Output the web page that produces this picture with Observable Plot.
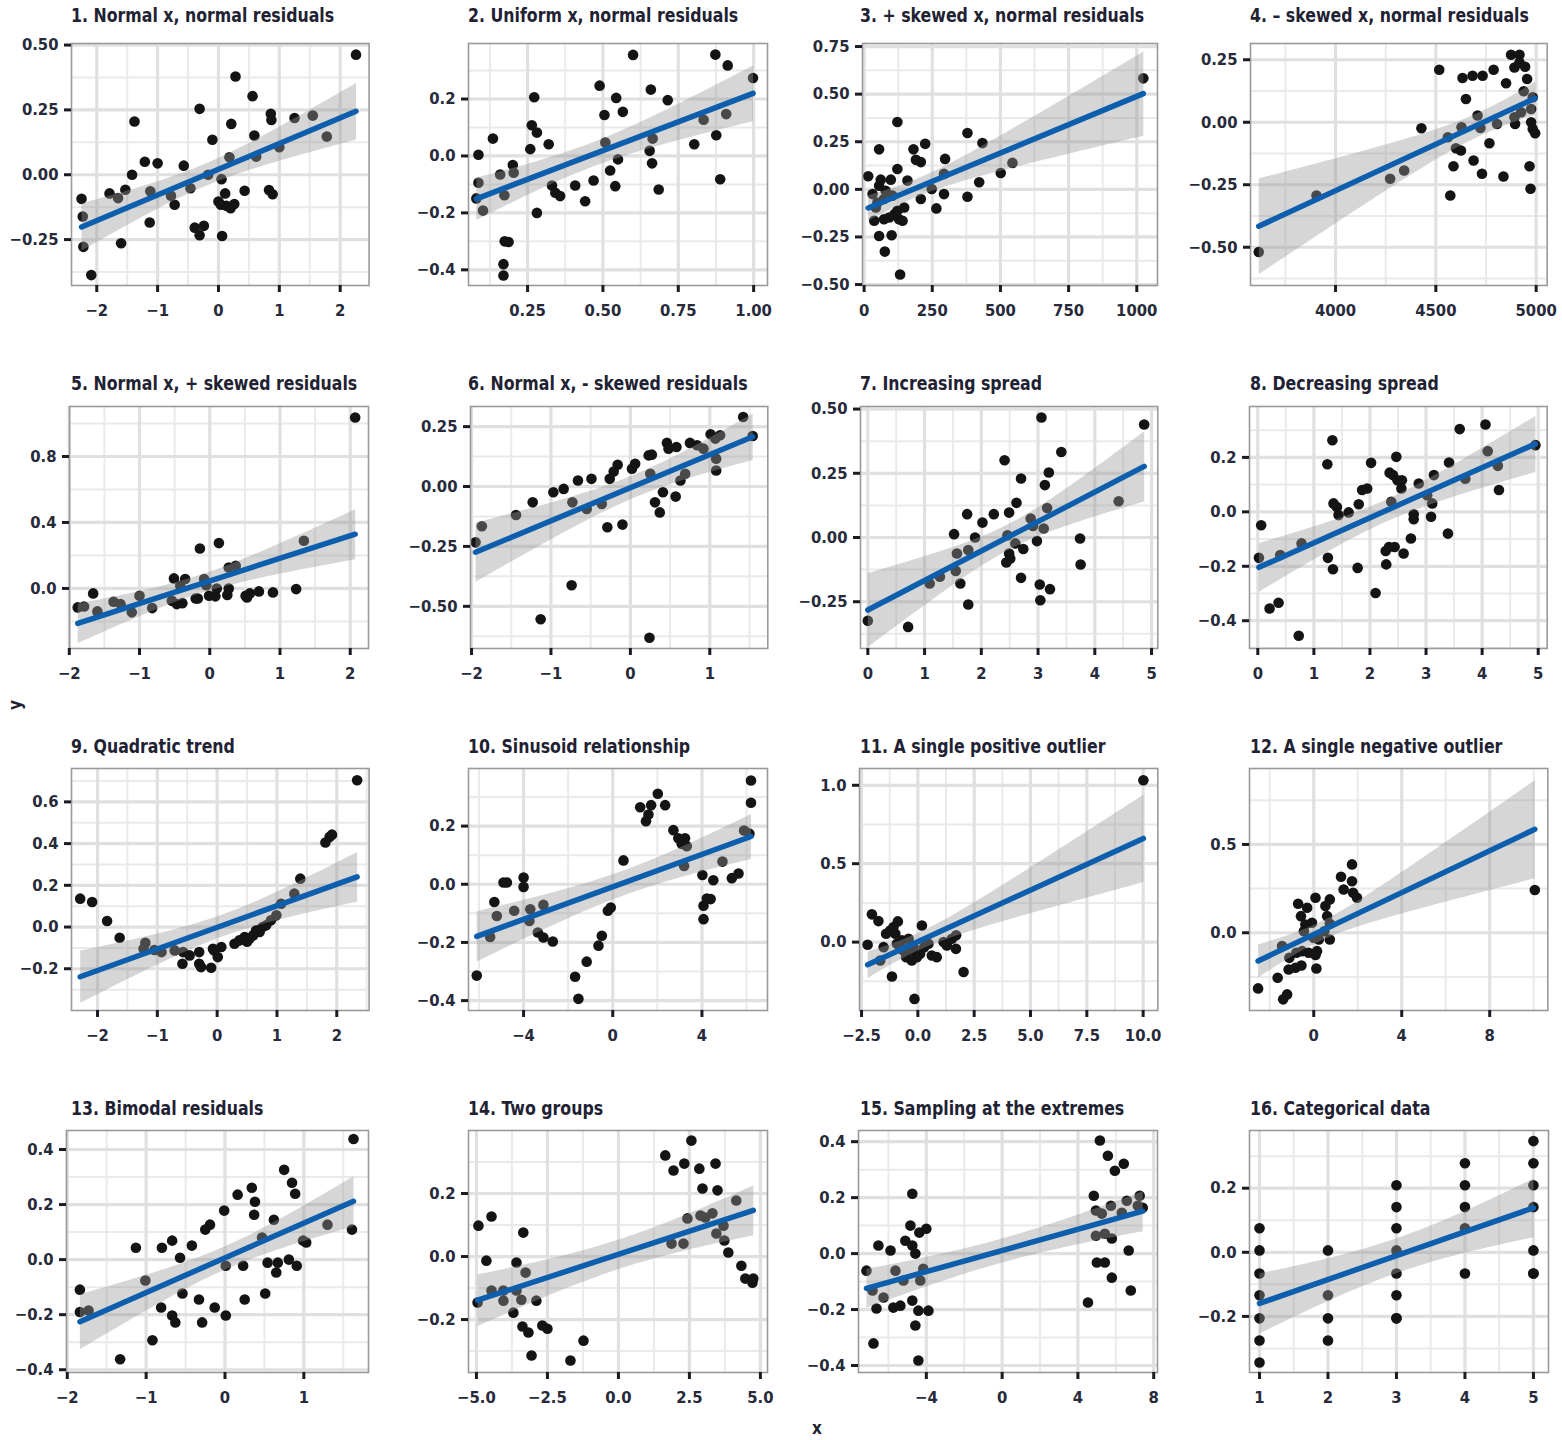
<!DOCTYPE html>
<html><head><meta charset="utf-8">
<script src="https://cdn.jsdelivr.net/npm/d3@7"></script>
<script src="https://cdn.jsdelivr.net/npm/@observablehq/plot@0.6"></script>
<style>
body{margin:0;background:#fff;}
#wrap{position:relative;width:1562px;height:1440px;overflow:hidden;background:#fff;}
#wrap svg{position:absolute;}
</style></head><body><div id="wrap"></div>
<script>
const titles = ["1. Normal x, normal residuals","2. Uniform x, normal residuals","3. + skewed x, normal residuals","4. \u2013 skewed x, normal residuals",
"5. Normal x, + skewed residuals","6. Normal x, - skewed residuals","7. Increasing spread","8. Decreasing spread",
"9. Quadratic trend","10. Sinusoid relationship","11. A single positive outlier","12. A single negative outlier",
"13. Bimodal residuals","14. Two groups","15. Sampling at the extremes","16. Categorical data"];

const xTicks = [[-2,-1,0,1,2],[0.25,0.5,0.75,1],[0,250,500,750,1000],[4000,4500,5000],
[-2,-1,0,1,2],[-2,-1,0,1],[0,1,2,3,4,5],[0,1,2,3,4,5],
[-2,-1,0,1,2],[-4,0,4],[-2.5,0,2.5,5,7.5,10],[0,4,8],
[-2,-1,0,1],[-5,-2.5,0,2.5,5],[-4,0,4,8],[1,2,3,4,5]];
const yTicks = [[-0.25,0,0.25,0.5],[-0.4,-0.2,0,0.2],[-0.5,-0.25,0,0.25,0.5,0.75],[-0.5,-0.25,0,0.25],
[0,0.4,0.8],[-0.5,-0.25,0,0.25],[-0.25,0,0.25,0.5],[-0.4,-0.2,0,0.2],
[-0.2,0,0.2,0.4,0.6],[-0.4,-0.2,0,0.2],[0,0.5,1],[0,0.5],
[-0.4,-0.2,0,0.2,0.4],[-0.2,0,0.2],[-0.4,-0.2,0,0.2,0.4],[-0.2,0,0.2]];
const xDecimals = [0,2,0,0, 0,0,0,0, 0,0,1,0, 0,1,0,0];
const yDecimals = [2,1,2,2, 1,2,2,1, 1,1,1,1, 1,1,1,1];

const p1 = [[2.26,0.463],[0.28,0.379],[0.56,0.303],[-0.31,0.254],[-1.38,0.205],[0.86,0.235],[0.87,0.211],[1.25,0.219],[1.55,0.228],[0.21,0.196],[1.78,0.147],[0.59,0.151],[-0.10,0.135],[1.0,0.106],[0.62,0.07],[0.18,0.067],[-1.21,0.05],[-1.0,0.044],[-0.57,0.035],[-1.42,0.0],[-0.17,0.0],[0.05,-0.017],[-2.25,-0.093],[-1.79,-0.072],[-1.65,-0.09],[-1.53,-0.058],[-1.12,-0.064],[-0.78,-0.081],[-0.72,-0.116],[-0.46,-0.052],[0.11,-0.072],[0.43,-0.062],[0.0,-0.103],[0.13,-0.12],[0.2,-0.129],[0.26,-0.113],[0.83,-0.059],[0.89,-0.075],[-2.23,-0.161],[-1.13,-0.184],[-0.39,-0.204],[-0.24,-0.197],[-0.31,-0.233],[0.06,-0.236],[-2.22,-0.278],[-1.6,-0.264],[-2.09,-0.387],[0.04,-0.116]];
const p2 = [[0.60,0.355],[0.873,0.356],[0.914,0.318],[0.998,0.274],[0.489,0.247],[0.659,0.233],[0.272,0.206],[0.544,0.204],[0.715,0.196],[0.505,0.144],[0.566,0.155],[0.909,0.147],[0.834,0.127],[0.264,0.108],[0.281,0.082],[0.135,0.061],[0.32,0.041],[0.803,0.041],[0.876,0.073],[0.665,0.061],[0.259,0.024],[0.508,0.047],[0.087,0.004],[0.655,0.018],[0.663,-0.026],[0.55,-0.012],[0.201,-0.032],[0.524,-0.051],[0.087,-0.094],[0.159,-0.065],[0.204,-0.059],[0.889,-0.082],[0.331,-0.104],[0.408,-0.104],[0.469,-0.086],[0.541,-0.106],[0.342,-0.129],[0.358,-0.141],[0.685,-0.118],[0.08,-0.149],[0.173,-0.138],[0.441,-0.159],[0.102,-0.192],[0.281,-0.2],[0.174,-0.3],[0.187,-0.302],[0.17,-0.38],[0.17,-0.42]];
const p3 = [[1024,0.583],[15,0.069],[55,0.21],[122,0.354],[122,0.107],[61,0.051],[98,0.051],[55,0.019],[159,0.046],[181,0.21],[190,0.155],[208,0.143],[224,0.239],[379,0.296],[434,0.243],[297,0.16],[544,0.139],[501,0.086],[422,0.037],[379,-0.039],[293,-0.025],[248,0.002],[208,-0.051],[265,-0.1],[293,0.081],[31,-0.025],[49,-0.069],[79,-0.007],[73,-0.051],[104,-0.033],[147,-0.095],[122,-0.113],[92,-0.148],[128,-0.157],[37,-0.165],[73,-0.157],[112,-0.13],[141,-0.165],[55,-0.245],[101,-0.241],[76,-0.327],[132,-0.447],[43,-0.095]];
const p4 = [[3617,-0.519],[3905,-0.293],[4272,-0.226],[4342,-0.193],[4428,-0.024],[4517,0.21],[4572,-0.293],[4588,-0.176],[4600,-0.104],[4625,-0.113],[4633,0.177],[4650,0.093],[4683,0.186],[4733,0.186],[4688,-0.153],[4730,-0.206],[4767,-0.084],[4788,0.21],[4805,-0.007],[4708,0.027],[4722,-0.023],[4628,-0.02],[4850,0.156],[4837,-0.217],[4875,0.27],[4917,0.27],[4892,0.219],[4917,0.239],[4945,0.222],[4955,0.173],[4938,0.124],[4983,0.1],[4975,0.053],[4925,0.04],[4892,0.02],[4895,-0.007],[4975,0],[4983,-0.027],[4995,-0.044],[4967,-0.176],[4972,-0.266],[4560,-0.06]];
const p5 = [[2.07,1.036],[1.34,0.289],[-0.14,0.242],[0.13,0.275],[0.27,0.127],[0.37,0.137],[-0.51,0.061],[-0.35,0.057],[-0.08,0.057],[-0.42,0.016],[-1.66,-0.03],[-1.0,-0.044],[-0.17,-0.061],[-0.01,-0.044],[0.08,-0.048],[0.25,-0.04],[0.27,0],[0.51,-0.044],[0.57,-0.03],[0.70,-0.018],[0.90,-0.024],[1.23,-0.004],[-1.88,-0.115],[-1.79,-0.109],[-1.6,-0.139],[-1.37,-0.081],[-1.27,-0.095],[-1.11,-0.145],[-0.82,-0.119],[-0.54,-0.075],[-0.47,-0.095],[-0.39,-0.089],[-0.2,-0.061],[0.53,-0.055],[-0.05,0.02],[0.1,0.0]];
const p6 = [[1.42,0.29],[1.54,0.211],[1.01,0.218],[1.13,0.214],[1.07,0.2],[0.75,0.182],[0.46,0.182],[0.58,0.165],[0.48,0.158],[0.84,0.172],[0.92,0.158],[0.23,0.13],[0.27,0.133],[0.06,0.095],[0.02,0.074],[-0.16,0.091],[-0.21,0.063],[-0.26,0.032],[-0.66,0.025],[-0.49,0.032],[-0.84,-0.01],[-0.97,-0.024],[-1.23,-0.066],[-0.73,-0.066],[-0.55,-0.094],[-0.36,-0.073],[-1.44,-0.119],[-1.87,-0.166],[-1.95,-0.233],[-0.29,-0.17],[-0.1,-0.159],[0.31,-0.066],[0.41,-0.024],[0.37,-0.108],[0.57,-0.042],[0.63,0.025],[0.69,0.053],[1.08,0.067],[1.08,0.116],[0.25,0.053],[-0.74,-0.412],[-1.13,-0.554],[0.24,-0.631]];
const p7 = [[0,-0.324],[0.71,-0.348],[1.09,-0.179],[1.27,-0.153],[1.55,-0.13],[1.63,-0.179],[1.77,-0.261],[1.52,0.013],[1.57,-0.062],[1.75,0.091],[1.89,0],[1.77,-0.049],[2.02,0.058],[2.22,0.091],[2.41,0.301],[2.49,0.097],[2.46,0.009],[2.49,-0.062],[2.51,-0.082],[2.44,-0.097],[2.62,0.135],[2.70,0.23],[2.6,-0.023],[2.74,-0.045],[2.70,-0.157],[2.87,0.074],[2.91,0.045],[2.98,-0.014],[3.03,-0.183],[3.04,-0.244],[3.06,0.467],[3.12,0.204],[3.19,0.253],[3.16,0.115],[3.10,0.035],[3.21,-0.201],[3.41,0.333],[3.74,-0.004],[3.75,-0.105],[4.42,0.141],[4.87,0.44]];
const p8 = [[0.02,-0.169],[0.06,-0.049],[0.21,-0.355],[0.37,-0.334],[0.40,-0.159],[0.78,-0.116],[0.73,-0.455],[1.24,0.175],[1.33,0.263],[1.25,-0.169],[1.34,-0.211],[1.35,0.031],[1.41,0.018],[1.44,-0.012],[1.62,-0.002],[1.80,0.028],[1.86,0.08],[1.95,0.086],[1.78,-0.206],[2.02,0.18],[2.10,-0.298],[2.28,-0.144],[2.29,-0.193],[2.35,0.144],[2.38,0.037],[2.41,0.135],[2.47,0.202],[2.49,0.116],[2.57,0.116],[2.56,0.086],[2.34,-0.129],[2.44,-0.129],[2.60,-0.153],[2.73,-0.098],[2.78,-0.009],[2.78,-0.027],[2.87,0.104],[3.02,0.061],[3.11,0.031],[3.09,-0.018],[3.14,0.135],[3.39,-0.08],[3.41,0.181],[3.60,0.304],[3.70,0.122],[4.06,0.321],[4.10,0.223],[4.28,0.169],[4.30,0.08],[4.95,0.245]];
const p9 = [[-2.29,0.136],[-2.09,0.12],[-1.84,0.029],[-1.63,-0.051],[-1.2,-0.075],[-1.23,-0.104],[-0.93,-0.12],[-0.71,-0.112],[-0.57,-0.12],[-0.58,-0.176],[-0.46,-0.136],[-0.3,-0.12],[-0.3,-0.176],[-0.27,-0.192],[-0.1,-0.195],[-0.07,-0.104],[0.01,-0.144],[0.07,-0.096],[-0.05,-0.112],[0.29,-0.08],[0.37,-0.064],[0.46,-0.048],[0.54,-0.056],[0.6,-0.04],[0.65,-0.016],[0.71,-0.024],[0.76,0],[0.82,0.008],[0.9,0.032],[0.99,0.056],[1.07,0.112],[1.29,0.16],[1.39,0.232],[1.81,0.405],[1.88,0.432],[1.92,0.443],[2.34,0.704],[-1.05,-0.11],[0.5,-0.07]];
const p10 = [[-6.1,-0.314],[-5.5,-0.181],[-5.2,-0.109],[-5.31,-0.061],[-4.9,0.006],[-4.75,0.006],[-4.42,-0.091],[-4.0,0.023],[-4.0,-0.009],[-3.7,-0.086],[-3.74,-0.126],[-3.11,-0.071],[-3.36,-0.166],[-3.11,-0.183],[-2.69,-0.197],[-1.69,-0.318],[-1.54,-0.394],[-1.17,-0.266],[-0.64,-0.211],[-0.49,-0.177],[-0.22,-0.091],[-0.09,-0.08],[0.48,0.082],[1.23,0.265],[1.49,0.217],[1.6,0.24],[1.72,0.272],[2.02,0.311],[2.35,0.272],[2.72,0.186],[2.94,0.158],[3.09,0.139],[3.24,0.158],[3.32,0.131],[3.2,0.063],[4.02,0.032],[4.07,-0.074],[4.07,-0.12],[4.22,-0.049],[4.39,-0.051],[4.51,0.014],[4.92,0.078],[5.34,0.021],[5.64,0.037],[5.89,0.185],[6.2,0.28],[6.2,0.357],[6.13,0.174]];
const p11 = [[10.01,1.032],[-2.23,-0.017],[-2.04,0.177],[-1.75,0.134],[-1.41,0.053],[-1.52,-0.032],[-1.23,0.074],[-1.08,0.096],[-0.89,0.132],[-1.0,0.053],[-1.15,-0.219],[-0.71,0.011],[-0.64,-0.053],[-0.52,-0.096],[-0.41,0.021],[-0.27,-0.117],[-0.15,-0.362],[-0.04,-0.096],[0.18,0.106],[0.28,-0.032],[0.47,-0.011],[0.62,-0.085],[0.84,-0.096],[1.14,0],[1.29,-0.021],[1.51,0.021],[1.7,0.043],[1.69,-0.043],[2.03,-0.191],[-1.67,-0.117],[-0.34,-0.053],[0.1,-0.074],[-0.19,-0.032],[-0.93,-0.011]];
const p12 = [[10.05,0.242],[-2.53,-0.315],[-1.64,-0.255],[-1.39,-0.377],[-1.21,-0.349],[-1.44,-0.075],[-1.11,-0.142],[-1.14,-0.208],[-0.83,-0.198],[-0.56,-0.185],[-0.79,-0.113],[-0.53,-0.104],[-0.23,-0.113],[0.08,-0.126],[0.15,-0.104],[0.12,-0.202],[-0.71,0.164],[-0.58,0.094],[-0.3,0.142],[-0.38,0.047],[-0.45,0.009],[0.08,0.198],[-0.08,0.057],[0,-0.028],[0.23,-0.038],[0.53,0.151],[0.73,0.189],[0.61,0.094],[0.73,0.051],[0.48,0.009],[0.73,-0.038],[1.24,0.317],[1.36,0.245],[1.74,0.387],[1.74,0.292],[1.79,0.226],[1.97,0.198]];
const p13 = [[1.63,0.438],[-1.84,-0.109],[-1.84,-0.19],[-1.73,-0.185],[-1.33,-0.362],[-1.13,0.043],[-1.01,-0.076],[-0.92,-0.293],[-0.8,0.043],[-0.67,0.069],[-0.81,-0.174],[-0.67,-0.203],[-0.63,-0.228],[-0.57,0.007],[-0.54,-0.123],[-0.42,0.051],[-0.33,-0.145],[-0.29,-0.228],[-0.25,0.109],[-0.19,0.127],[-0.13,-0.174],[-0.01,0.178],[0.01,-0.203],[0.01,-0.022],[0.16,0.236],[0.23,-0.022],[0.25,-0.145],[0.34,0.261],[0.38,0.21],[0.37,0.163],[0.47,0.08],[0.51,-0.123],[0.54,-0.011],[0.62,0.145],[0.67,-0.011],[0.65,-0.047],[0.75,0.326],[0.81,0],[0.85,0.279],[0.89,0.239],[0.91,-0.022],[0.99,0.069],[1.03,0.062],[1.3,0.127],[1.61,0.109]];
const p14 = [[-4.93,0.098],[-4.47,0.127],[-4.65,-0.013],[-4.47,-0.108],[-4.96,-0.146],[-4.05,-0.108],[-4.05,-0.14],[-3.59,-0.019],[-3.59,-0.108],[-3.42,-0.137],[-3.7,-0.178],[-3.35,0.076],[-3.27,-0.051],[-3.38,-0.222],[-3.17,-0.241],[-2.89,-0.14],[-3.06,-0.314],[-2.68,-0.219],[-2.5,-0.229],[-1.69,-0.33],[-1.23,-0.267],[1.65,0.321],[1.94,0.273],[2.32,0.295],[2.57,0.368],[2.96,0.216],[2.85,0.279],[3.42,0.295],[3.49,0.21],[1.87,0.041],[2.29,0.041],[2.43,0.121],[2.89,0.13],[3.31,0.137],[3.45,0.073],[3.7,0.098],[3.73,0.051],[4.15,0.178],[3.87,0.013],[4.33,-0.029],[4.47,-0.07],[4.72,-0.083],[4.75,-0.07],[3.06,0.124]];
const p15 = [[-7.16,-0.061],[-6.84,-0.132],[-6.79,-0.321],[-6.53,0.029],[-6.63,-0.196],[-6.26,-0.157],[-5.74,-0.193],[-5.89,0.011],[-5.63,-0.061],[-5.21,-0.096],[-5.11,0.046],[-5.37,-0.186],[-4.84,0.1],[-4.74,0.029],[-4.74,-0.168],[-4.58,0],[-4.32,-0.096],[-4.42,-0.204],[-4.58,-0.257],[-4.74,0.214],[-4.37,0.075],[-4.0,0.089],[-4.16,-0.054],[-3.89,-0.204],[-4.42,-0.382],[4.53,-0.175],[4.84,0.207],[5.16,0.404],[4.95,0.154],[5.26,0.143],[5.74,0.171],[5.58,0.35],[5.95,0.296],[6.42,0.321],[4.95,0.064],[5.42,0.071],[5.79,0.054],[5.0,-0.032],[5.42,-0.032],[5.79,-0.086],[6.58,0.189],[6.32,0.146],[6.68,0.011],[6.79,-0.132],[7.26,0.207],[7.42,0.164],[7.16,0.171]];
const p16 = [[1,0.075],[1,0.006],[1,-0.066],[1,-0.134],[1,-0.206],[1,-0.275],[1,-0.344],[2,0.006],[2,-0.134],[2,-0.206],[2,-0.275],[3,0.209],[3,0.141],[3,0.075],[3,0.006],[3,-0.066],[3,-0.134],[3,-0.206],[3,-0.206],[4,0.278],[4,0.209],[4,0.141],[4,0.075],[4,-0.066],[5,0.347],[5,0.278],[5,0.209],[5,0.141],[5,0.006],[5,-0.066],[5,-0.066]];
const series = [p1,p2,p3,p4,p5,p6,p7,p8,p9,p10,p11,p12,p13,p14,p15,p16];

// scale domains (ggplot-style expanded limits)
const xDomains = [[-2.415,2.475],[0.054,1.046],[-5.9,1076],[3576,5055],[-1.997,2.26],[-2.013,1.73],[-0.129,5.11],[-0.148,5.16],[-2.435,2.54],[-6.47,6.94],[-2.59,10.65],[-2.92,10.64],[-2.01,1.82],[-5.28,5.25],[-7.58,8.2],[0.854,5.22]];
const yDomains = [[-0.427,0.506],[-0.455,0.395],[-0.505,0.766],[-0.653,0.315],[-0.364,1.103],[-0.676,0.334],[-0.432,0.51],[-0.502,0.387],[-0.4,0.76],[-0.434,0.398],[-0.436,1.107],[-0.44,0.93],[-0.41,0.469],[-0.368,0.4],[-0.425,0.44],[-0.375,0.38]];

// layout
const frameL = [70.7,468.3,861.7,1250, 69.3,470,860,1249, 70.7,468.3,859,1249, 66,468,858,1249];
const frameR = [368.3,767.3,1156.7,1546.7, 368.3,767.3,1157.3,1546.7, 368.3,767.3,1157.3,1547.3, 368,767,1157,1548];
const rowTop = [43,406,768,1130], rowBot = [285,648,1010,1372];
const titleX = [71,468,860,1250];
const titleBase = [22,390,753,1115];

const FONT = '"Liberation Sans Narrow","Arial Narrow","DejaVu Sans Condensed",sans-serif';
const TXT = "#262a3a";
const wrap = document.getElementById("wrap");
const ML=70, MR=4, MT=4, MB=44;

function minors(ticks, dom){
  const t = ticks.slice().sort((a,b)=>a-b);
  const s = t.length>1 ? t[1]-t[0] : 1;
  const out=[];
  for(let k=-1;k<t.length;k++){ const v=t[0]+(k+0.5)*s; if(v>=dom[0] && v<=dom[1]) out.push(v); }
  return out;
}

series.forEach((pts,i)=>{
  const row = Math.floor(i/4);
  const l=frameL[i], r=frameR[i], t=rowTop[row], b=rowBot[row];
  const data = pts.map(([x,y])=>({x,y}));
  const fx = d3.format("."+xDecimals[i]+"f"), fy = d3.format("."+yDecimals[i]+"f");
  const chart = Plot.plot({
    width: (r-l)+ML+MR, height: (b-t)+MT+MB,
    marginLeft: ML, marginRight: MR, marginTop: MT, marginBottom: MB,
    x: {domain: xDomains[i]}, y: {domain: yDomains[i]},
    style: {fontFamily: FONT, fontSize: "17px", color: TXT, background: "transparent", overflow: "visible"},
    marks: [
      Plot.gridX(minors(xTicks[i], xDomains[i]), {stroke:"#eaeaea", strokeWidth:2, strokeOpacity:1}),
      Plot.gridY(minors(yTicks[i], yDomains[i]), {stroke:"#eaeaea", strokeWidth:2, strokeOpacity:1}),
      Plot.gridX(xTicks[i], {stroke:"#e0e0e0", strokeWidth:3.2, strokeOpacity:1}),
      Plot.gridY(yTicks[i], {stroke:"#e0e0e0", strokeWidth:3.2, strokeOpacity:1}),
      Plot.dot(data, {x:"x", y:"y", r:5.3, fill:"#141414", stroke:null}),
      Plot.linearRegressionY(data, {x:"x", y:"y", stroke:"#0d5fad", strokeWidth:5.5, fill:"#999999", fillOpacity:0.4, ci:0.95}),
      Plot.frame({stroke:"#9a9a9a", strokeWidth:1.6}),
      Plot.axisX(xTicks[i], {tickSize:7, tickPadding:12, strokeWidth:3, stroke:"#1b1b24", fill:TXT, tickFormat:fx, label:null, fontSize:16.5, fontWeight:"bold"}),
      Plot.axisY(yTicks[i], {tickSize:7, tickPadding:6, strokeWidth:3, stroke:"#1b1b24", fill:TXT, tickFormat:fy, label:null, fontSize:16.5, fontWeight:"bold"})
    ]
  });
  chart.style.left = (l-ML)+"px";
  chart.style.top = (t-MT)+"px";
  wrap.appendChild(chart);
});

// titles and global axis labels
const ov = d3.select(wrap).append("svg").attr("width",1562).attr("height",1440).style("left","0px").style("top","0px").style("pointer-events","none");
titles.forEach((s,i)=>{
  ov.append("text")
    .attr("transform", `translate(${titleX[i%4]},${titleBase[Math.floor(i/4)]}) scale(0.9,1)`)
    .attr("font-family", FONT).attr("font-size", 19.5).attr("font-weight","bold").attr("fill","#1f2233").text(s);
});
ov.append("text").attr("transform","translate(21,705) rotate(-90)").attr("text-anchor","middle")
  .attr("font-family",FONT).attr("font-size",17).attr("font-weight","bold").attr("fill","#1f2233").text("y");
ov.append("text").attr("x",817).attr("y",1434).attr("text-anchor","middle")
  .attr("font-family",FONT).attr("font-size",17).attr("font-weight","bold").attr("fill","#1f2233").text("x");
</script></body></html>
